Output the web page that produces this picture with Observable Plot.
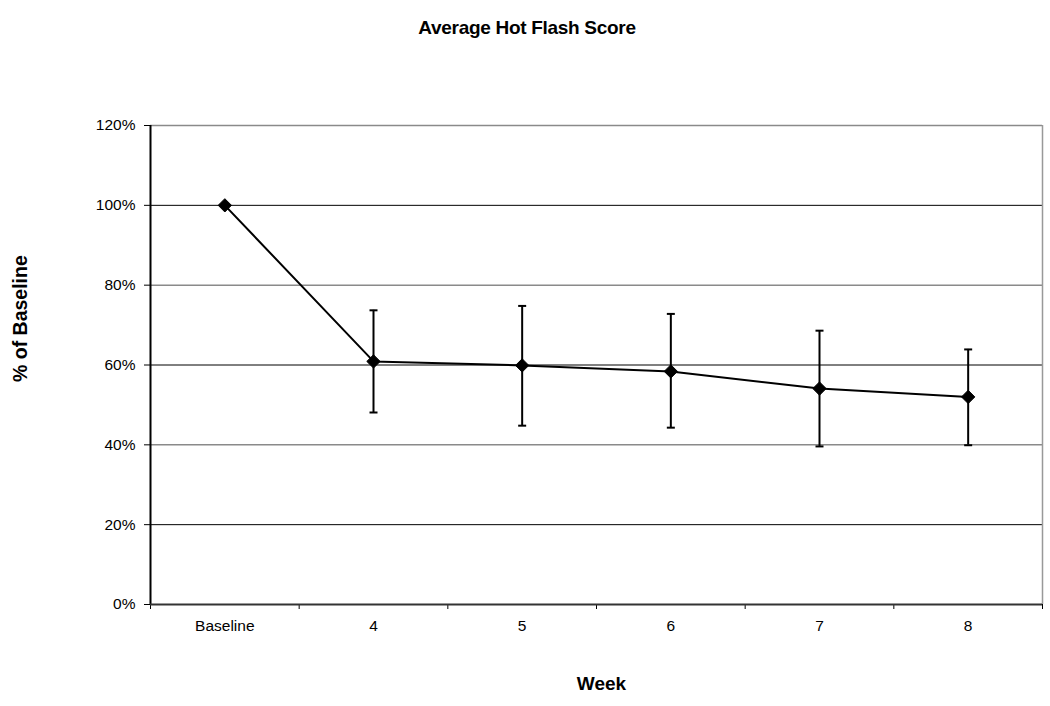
<!DOCTYPE html>
<html>
<head>
<meta charset="utf-8">
<script src="https://cdn.jsdelivr.net/npm/d3@7"></script>
<script src="https://cdn.jsdelivr.net/npm/@observablehq/plot@0.6"></script>
<style>
  html, body { margin: 0; padding: 0; background: #fff; }
  body { width: 1050px; height: 706px; overflow: hidden; font-family: "Liberation Sans", Arial, sans-serif; }
  #title { height: 55px; line-height: 56px; text-align: center; font-weight: bold; font-size: 19px; color: #000; padding-left: 4px; box-sizing: border-box; letter-spacing: -0.3px; }
</style>
</head>
<body>
<div id="title">Average Hot Flash Score</div>
<div id="chart"></div>
<script>
const categories = ["Baseline", "4", "5", "6", "7", "8"];
const means = [1.00, 0.609, 0.599, 0.584, 0.541, 0.520];
const upper = [null, 0.737, 0.748, 0.728, 0.686, 0.639];
const lower = [null, 0.481, 0.448, 0.443, 0.396, 0.399];
const yTicks = [0, 0.2, 0.4, 0.6, 0.8, 1.0, 1.2];

const data = categories.map((c, i) => ({cat: c, pos: i + 0.5, mean: means[i], hi: upper[i], lo: lower[i]}));
const errData = data.filter(d => d.hi != null);
const edges = d3.range(categories.length + 1);

const capSymbol = {
  draw(ctx, size) { ctx.moveTo(-4, 0); ctx.lineTo(4, 0); }
};

const chart = Plot.plot({
  width: 1050,
  height: 651,
  marginLeft: 150,
  marginRight: 8,
  marginTop: 70,
  marginBottom: 102,
  style: {fontFamily: "Liberation Sans, Arial, sans-serif", fontSize: "15.5px", color: "#000", background: "#fff"},
  x: {type: "linear", domain: [0, categories.length]},
  y: {domain: [0, 1.2]},
  marks: [
    // gridlines
    Plot.ruleY(yTicks.filter(v => v > 0), {y: d => d, stroke: d => (Math.round(d * 10) % 4 === 0) ? "#8a8a8a" : "#000", strokeWidth: d => (Math.round(d * 10) % 4 === 0) ? 1.5 : 1}),
    // right border
    Plot.ruleX([categories.length], {stroke: "#999", strokeWidth: 1.5}),
    // y axis
    Plot.axisY({ticks: yTicks, tickFormat: d3.format(".0%"), tickSize: 6, tickPadding: 9, label: null, stroke: "#000", fontSize: 15.5}),
    // x axis ticks at band edges
    Plot.axisX({ticks: edges, tickFormat: () => "", tickSize: 5, label: null, stroke: "#000"}),
    // x axis labels at band centers
    Plot.axisX({ticks: data.map(d => d.pos), tickFormat: v => categories[Math.round(v - 0.5)], tickSize: 0, tickPadding: 15, label: null, fontSize: 15.5}),
    // axis lines
    Plot.ruleX([0], {stroke: "#000", strokeWidth: 2}),
    Plot.ruleY([0], {stroke: "#333", strokeWidth: 2}),
    // error bars
    Plot.ruleX(errData, {x: "pos", y1: "lo", y2: "hi", stroke: "#000", strokeWidth: 2}),
    Plot.dot(errData, {x: "pos", y: "hi", symbol: capSymbol, stroke: "#000", strokeWidth: 2, r: 4}),
    Plot.dot(errData, {x: "pos", y: "lo", symbol: capSymbol, stroke: "#000", strokeWidth: 2, r: 4}),
    // line
    Plot.line(data, {x: "pos", y: "mean", stroke: "#000", strokeWidth: 2}),
    Plot.dot(data, {x: "pos", y: "mean", symbol: "diamond2", fill: "#000", stroke: "#000", strokeWidth: 1, r: 6}),
    // axis titles
    Plot.text(["Week"], {frameAnchor: "bottom", dx: 5, dy: 85, fontWeight: "bold", fontSize: 19, fill: "#000"}),
    Plot.text(["% of Baseline"], {frameAnchor: "left", dx: -130, dy: 17, rotate: -90, fontWeight: "bold", fontSize: 19.5, fill: "#000"})
  ]
});
document.getElementById("chart").appendChild(chart);
</script>
</body>
</html>
